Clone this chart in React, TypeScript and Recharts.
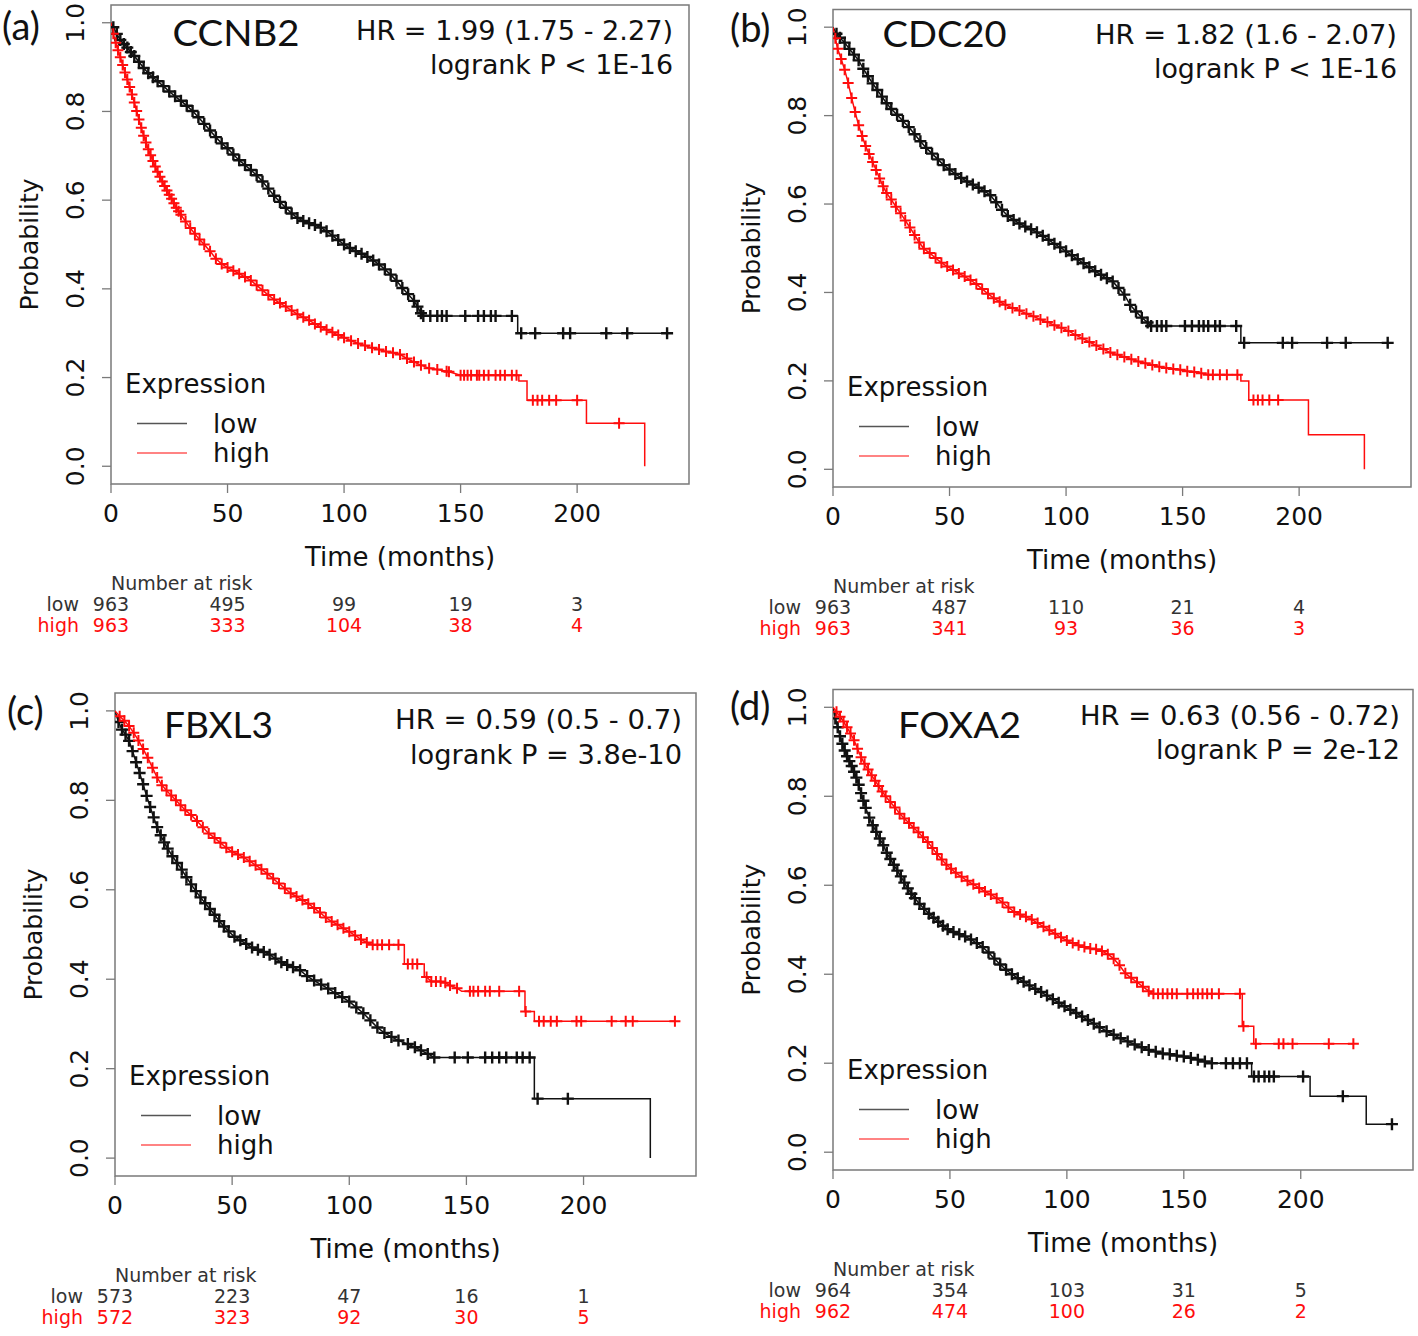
import React from "react";
import { LineChart, Line, XAxis, YAxis, ReferenceArea } from "recharts";

// [time (months), survival probability, censor mark 1/0]
type Pt = [number, number, number];

const timeTicks = [0, 50, 100, 150, 200];
const probTicks = [0, 0.2, 0.4, 0.6, 0.8, 1];

const ccnb2Low: Pt[] = [
  [0, 1, 0], [1, 0.99, 1], [2.5, 0.975, 1], [4, 0.961, 1], [5.5, 0.952, 1], [7, 0.944, 1], [8.5, 0.934, 1],
  [10, 0.925, 1], [12, 0.912, 1], [14, 0.898, 1], [16, 0.886, 1], [18, 0.877, 1], [20, 0.868, 1],
  [22.5, 0.857, 1], [25, 0.845, 1], [27.5, 0.834, 1], [30, 0.824, 1], [32.5, 0.813, 1], [35, 0.801, 1],
  [37.5, 0.787, 1], [40, 0.772, 1], [42.5, 0.757, 1], [45, 0.742, 1], [47.5, 0.728, 1], [50, 0.717, 1],
  [52.5, 0.703, 1], [55, 0.69, 1], [57.5, 0.679, 1], [60, 0.668, 1], [62.5, 0.656, 1], [65, 0.642, 1],
  [67.5, 0.626, 1], [70, 0.61, 1], [72.5, 0.596, 1], [75, 0.583, 1], [77.5, 0.57, 1], [80, 0.56, 1],
  [82.5, 0.553, 1], [85, 0.548, 1], [87.5, 0.544, 1], [90, 0.538, 1], [92.5, 0.53, 1], [95, 0.52, 1],
  [97.5, 0.51, 1], [100, 0.5, 1], [102.5, 0.492, 1], [105, 0.485, 1], [107.5, 0.479, 1], [110, 0.472, 1],
  [112.5, 0.464, 1], [115, 0.455, 1], [117.5, 0.444, 1], [120, 0.432, 1], [122.5, 0.418, 1], [125, 0.402, 1],
  [127.5, 0.388, 1], [130, 0.373, 1], [131.5, 0.36, 1], [133, 0.345, 1], [134, 0.339, 1], [137, 0.339, 1],
  [140, 0.339, 1], [142, 0.339, 1], [144, 0.339, 1], [152, 0.339, 1], [157.5, 0.339, 1], [160, 0.339, 1],
  [163, 0.339, 1], [165, 0.339, 1], [172, 0.339, 1], [174.5, 0.339, 0], [174.5, 0.3, 0], [176, 0.3, 1],
  [182, 0.3, 1], [194, 0.3, 1], [197, 0.3, 1], [212.5, 0.3, 1], [221.5, 0.3, 1], [238.6, 0.3, 1],
];

const ccnb2High: Pt[] = [
  [0, 1, 0], [1, 0.975, 1], [2, 0.955, 1], [3, 0.938, 1], [4, 0.922, 1], [5, 0.905, 1], [6, 0.888, 1],
  [7, 0.872, 1], [8, 0.855, 1], [9, 0.838, 1], [10, 0.82, 1], [11, 0.801, 1], [12, 0.782, 1], [13, 0.763, 1],
  [14, 0.745, 1], [15, 0.73, 1], [16, 0.715, 1], [17, 0.701, 1], [18, 0.688, 1], [19, 0.676, 1], [20, 0.664, 1],
  [21, 0.653, 1], [22, 0.642, 1], [23, 0.632, 1], [24, 0.622, 1], [25, 0.612, 1], [26, 0.603, 1], [27, 0.593, 1],
  [28, 0.583, 1], [29, 0.575, 1], [30, 0.567, 1], [32, 0.552, 1], [34, 0.537, 1], [36, 0.524, 1], [38, 0.511, 1],
  [40, 0.5, 1], [42.5, 0.485, 1], [45, 0.468, 1], [47.5, 0.456, 1], [50, 0.448, 1], [52.5, 0.441, 1],
  [55, 0.434, 1], [57.5, 0.427, 1], [60, 0.419, 1], [62.5, 0.408, 1], [65, 0.397, 1], [67.5, 0.386, 1],
  [70, 0.376, 1], [72.5, 0.368, 1], [75, 0.36, 1], [77.5, 0.351, 1], [80, 0.343, 1], [82.5, 0.336, 1],
  [85, 0.329, 1], [87.5, 0.321, 1], [90, 0.314, 1], [92.5, 0.308, 1], [95, 0.302, 1], [97.5, 0.296, 1],
  [100, 0.29, 1], [103, 0.283, 1], [106, 0.277, 1], [109, 0.272, 1], [112, 0.267, 1], [115, 0.263, 1],
  [118, 0.259, 1], [121, 0.256, 1], [124, 0.252, 1], [127, 0.243, 1], [130, 0.235, 1], [133, 0.228, 1],
  [136.5, 0.221, 1], [140, 0.218, 1], [144, 0.214, 1], [145, 0.213, 1], [150, 0.205, 1], [151.5, 0.205, 1],
  [153, 0.205, 1], [154.5, 0.205, 1], [157, 0.205, 1], [158, 0.205, 1], [160, 0.205, 1], [162, 0.205, 1],
  [165, 0.205, 1], [167, 0.205, 1], [169, 0.205, 1], [172, 0.205, 1], [174, 0.205, 1], [175, 0.205, 0],
  [175, 0.192, 0], [178.5, 0.192, 0], [178.5, 0.149, 0], [181, 0.149, 1], [183, 0.149, 1], [185, 0.149, 1],
  [188, 0.149, 1], [191, 0.149, 1], [200, 0.149, 1], [204, 0.149, 0], [204, 0.097, 0], [218, 0.097, 1],
  [229, 0.097, 0], [229, 0, 0],
];

const cdc20Low: Pt[] = [
  [0, 1, 0], [1.5, 0.985, 1], [3, 0.976, 1], [5, 0.965, 1], [7, 0.951, 1], [9, 0.938, 1], [11, 0.925, 1],
  [13, 0.906, 1], [15, 0.889, 1], [17, 0.873, 1], [19, 0.858, 1], [21, 0.843, 1], [23, 0.828, 1], [25, 0.815, 1],
  [27.5, 0.802, 1], [30, 0.788, 1], [32.5, 0.774, 1], [35, 0.758, 1], [37.5, 0.742, 1], [40, 0.727, 1],
  [42.5, 0.714, 1], [45, 0.701, 1], [47.5, 0.688, 1], [50, 0.678, 1], [52.5, 0.668, 1], [55, 0.659, 1],
  [57.5, 0.651, 1], [60, 0.644, 1], [62.5, 0.637, 1], [65, 0.629, 1], [67.5, 0.62, 1], [70, 0.604, 1],
  [72.5, 0.587, 1], [75, 0.573, 1], [77.5, 0.564, 1], [80, 0.556, 1], [82.5, 0.549, 1], [85, 0.543, 1],
  [87.5, 0.536, 1], [90, 0.528, 1], [92.5, 0.519, 1], [95, 0.51, 1], [97.5, 0.502, 1], [100, 0.493, 1],
  [102.5, 0.484, 1], [105, 0.475, 1], [107.5, 0.466, 1], [110, 0.457, 1], [112.5, 0.448, 1], [115, 0.44, 1],
  [117.5, 0.432, 1], [120, 0.425, 1], [122.5, 0.41, 1], [125, 0.395, 1], [127.5, 0.372, 1], [130, 0.357, 1],
  [132.5, 0.343, 1], [135, 0.332, 1], [136.5, 0.324, 1], [139, 0.324, 1], [141, 0.324, 1], [143, 0.324, 1],
  [151, 0.324, 1], [154, 0.324, 1], [157, 0.324, 1], [159, 0.324, 1], [161, 0.324, 1], [164, 0.324, 1],
  [166, 0.324, 1], [173, 0.324, 1], [175, 0.324, 0], [175, 0.286, 0], [176.4, 0.286, 1], [193, 0.286, 1],
  [197, 0.286, 1], [212, 0.286, 1], [220, 0.286, 1], [238, 0.286, 1],
];

const cdc20High: Pt[] = [
  [0, 1, 0], [1, 0.975, 1], [2, 0.951, 1], [3.5, 0.928, 1], [5, 0.904, 1], [6.5, 0.874, 1], [8, 0.84, 1],
  [9.5, 0.808, 1], [11, 0.778, 1], [12.5, 0.754, 1], [14, 0.731, 1], [15.5, 0.713, 1], [17, 0.695, 1],
  [18.5, 0.677, 1], [20, 0.658, 1], [21.5, 0.64, 1], [23, 0.625, 1], [25, 0.61, 1], [27, 0.594, 1],
  [29, 0.579, 1], [31, 0.563, 1], [33, 0.547, 1], [35, 0.53, 1], [37, 0.513, 1], [39, 0.499, 1],
  [41.5, 0.489, 1], [44, 0.478, 1], [46.5, 0.467, 1], [49, 0.459, 1], [51.5, 0.451, 1], [54, 0.443, 1],
  [56.5, 0.436, 1], [59, 0.428, 1], [61.5, 0.419, 1], [64, 0.408, 1], [66.5, 0.397, 1], [69, 0.387, 1],
  [71.5, 0.379, 1], [74, 0.372, 1], [77, 0.365, 1], [80, 0.359, 1], [83, 0.352, 1], [86, 0.346, 1],
  [89, 0.339, 1], [92, 0.333, 1], [95, 0.326, 1], [98, 0.32, 1], [101, 0.313, 1], [104, 0.304, 1],
  [107, 0.296, 1], [110, 0.288, 1], [113, 0.28, 1], [116, 0.272, 1], [119, 0.264, 1], [122, 0.259, 1],
  [125, 0.254, 1], [128, 0.249, 1], [131, 0.244, 1], [134, 0.24, 1], [137, 0.236, 1], [140, 0.232, 1],
  [143, 0.229, 1], [146, 0.227, 1], [149, 0.225, 1], [152, 0.222, 1], [155, 0.22, 1], [158, 0.217, 1],
  [161, 0.214, 1], [163, 0.214, 1], [166, 0.214, 1], [169, 0.214, 1], [173.5, 0.214, 1], [175, 0.214, 0],
  [175, 0.2, 0], [178.4, 0.2, 0], [178.4, 0.157, 0], [180.4, 0.157, 1], [182.3, 0.157, 1], [184.3, 0.157, 1],
  [187.2, 0.157, 1], [191, 0.157, 1], [204, 0.157, 0], [204, 0.078, 0], [228, 0.078, 0], [228, 0, 0],
];

const fbxl3Low: Pt[] = [
  [0, 1, 0], [1.5, 0.975, 1], [3, 0.958, 1], [4.5, 0.947, 1], [6, 0.933, 1], [7.5, 0.91, 1], [9, 0.885, 1],
  [10.5, 0.861, 1], [12, 0.836, 1], [13.5, 0.81, 1], [15, 0.785, 1], [16.5, 0.762, 1], [18, 0.74, 1],
  [19.5, 0.722, 1], [21, 0.706, 1], [22.5, 0.692, 1], [24.5, 0.675, 1], [26.5, 0.66, 1], [28.5, 0.645, 1],
  [30.5, 0.628, 1], [32.5, 0.612, 1], [34.5, 0.597, 1], [36.5, 0.583, 1], [38.5, 0.57, 1], [40.5, 0.557, 1],
  [42.5, 0.544, 1], [44.5, 0.53, 1], [46.5, 0.518, 1], [48.5, 0.507, 1], [51, 0.495, 1], [53.5, 0.487, 1],
  [56, 0.479, 1], [58.5, 0.471, 1], [61, 0.466, 1], [63.5, 0.461, 1], [66, 0.455, 1], [68.5, 0.446, 1],
  [71, 0.438, 1], [73.5, 0.432, 1], [76, 0.427, 1], [79, 0.42, 1], [82, 0.407, 1], [85, 0.397, 1],
  [88, 0.388, 1], [91, 0.379, 1], [94, 0.369, 1], [97, 0.36, 1], [100, 0.35, 1], [103, 0.337, 1],
  [106, 0.324, 1], [109, 0.308, 1], [112, 0.292, 1], [115, 0.28, 1], [118, 0.271, 1], [121, 0.263, 1],
  [125, 0.255, 1], [128, 0.248, 1], [130.6, 0.241, 1], [133.5, 0.233, 1], [136.3, 0.225, 1], [145, 0.225, 1],
  [150.6, 0.225, 1], [158, 0.225, 1], [161, 0.225, 1], [164, 0.225, 1], [167, 0.225, 1], [171.5, 0.225, 1],
  [174, 0.225, 1], [177, 0.225, 1], [179, 0.225, 0], [179, 0.133, 0], [180.4, 0.133, 1], [193.3, 0.133, 1],
  [228.5, 0.133, 0], [228.5, 0, 0],
];

const fbxl3High: Pt[] = [
  [0, 1, 0], [2, 0.988, 1], [4, 0.978, 1], [6, 0.966, 1], [8, 0.951, 1], [10, 0.934, 1], [12, 0.915, 1],
  [14, 0.895, 1], [16, 0.873, 1], [18, 0.851, 1], [20, 0.834, 1], [22, 0.822, 1], [24, 0.811, 1], [26, 0.8, 1],
  [28, 0.789, 1], [30, 0.778, 1], [32.5, 0.767, 1], [35, 0.754, 1], [37.5, 0.74, 1], [40, 0.726, 1],
  [42.5, 0.716, 1], [45, 0.705, 1], [47.5, 0.694, 1], [50, 0.685, 1], [52.5, 0.679, 1], [55, 0.672, 1],
  [57.5, 0.664, 1], [60, 0.655, 1], [62.5, 0.646, 1], [65, 0.636, 1], [67.5, 0.625, 1], [70, 0.614, 1],
  [72.5, 0.603, 1], [75, 0.592, 1], [77.5, 0.585, 1], [80, 0.577, 1], [82.5, 0.569, 1], [85, 0.559, 1],
  [87.5, 0.549, 1], [90, 0.538, 1], [92.5, 0.529, 1], [95, 0.522, 1], [97.5, 0.514, 1], [100, 0.506, 1],
  [102.5, 0.498, 1], [105, 0.489, 1], [107.5, 0.482, 1], [110, 0.477, 1], [112, 0.477, 1], [114, 0.477, 1],
  [117, 0.477, 1], [121, 0.477, 1], [123.5, 0.477, 0], [123.5, 0.434, 0], [125, 0.434, 1], [127, 0.434, 1],
  [129, 0.434, 1], [132, 0.434, 0], [132, 0.405, 0], [133, 0.405, 1], [135, 0.395, 1], [137, 0.395, 1],
  [139, 0.395, 1], [141, 0.392, 1], [143, 0.386, 1], [146, 0.38, 1], [148, 0.373, 0], [151.5, 0.373, 1],
  [153, 0.373, 1], [155, 0.373, 1], [158, 0.373, 1], [160, 0.373, 1], [164, 0.373, 1], [172.5, 0.373, 1],
  [175, 0.373, 0], [175, 0.328, 0], [175.3, 0.328, 1], [179, 0.328, 0], [179, 0.306, 0], [181, 0.306, 1],
  [183, 0.306, 1], [186, 0.306, 1], [188.6, 0.306, 1], [197, 0.306, 1], [199, 0.306, 1], [212, 0.306, 1],
  [218, 0.306, 1], [221, 0.306, 1], [239, 0.306, 1],
];

const foxa2Low: Pt[] = [
  [0, 1, 0], [1, 0.975, 1], [2, 0.955, 1], [3, 0.935, 1], [4, 0.918, 1], [5, 0.903, 1], [6, 0.89, 1],
  [7, 0.879, 1], [8, 0.868, 1], [9, 0.855, 1], [10, 0.842, 1], [11, 0.826, 1], [12, 0.807, 1], [13, 0.79, 1],
  [14, 0.774, 1], [15.5, 0.752, 1], [17, 0.735, 1], [18.5, 0.72, 1], [20, 0.705, 1], [21.5, 0.69, 1],
  [23, 0.673, 1], [24.5, 0.659, 1], [26, 0.646, 1], [27.5, 0.633, 1], [29, 0.62, 1], [30.5, 0.606, 1],
  [32, 0.593, 1], [33.5, 0.581, 1], [35, 0.571, 1], [37, 0.558, 1], [39, 0.547, 1], [41, 0.536, 1],
  [43, 0.527, 1], [45, 0.518, 1], [47, 0.509, 1], [49, 0.501, 1], [51.5, 0.495, 1], [54, 0.49, 1],
  [56.5, 0.485, 1], [59, 0.478, 1], [61.5, 0.47, 1], [64, 0.461, 1], [66.5, 0.449, 1], [69, 0.435, 1],
  [71.5, 0.422, 1], [74, 0.41, 1], [76.5, 0.4, 1], [79, 0.391, 1], [81.5, 0.383, 1], [84, 0.375, 1],
  [86.5, 0.367, 1], [89, 0.36, 1], [91.5, 0.352, 1], [94, 0.344, 1], [96.5, 0.336, 1], [99, 0.328, 1],
  [101.5, 0.32, 1], [104, 0.313, 1], [106.5, 0.305, 1], [109, 0.297, 1], [111.5, 0.289, 1], [114, 0.281, 1],
  [117, 0.272, 1], [120, 0.264, 1], [123, 0.256, 1], [126, 0.249, 1], [129, 0.242, 1], [132, 0.236, 1],
  [135, 0.23, 1], [138, 0.226, 1], [141, 0.222, 1], [144, 0.22, 1], [147, 0.217, 1], [150, 0.215, 1],
  [153, 0.212, 1], [156, 0.208, 1], [159, 0.204, 1], [162, 0.2, 1], [168, 0.2, 1], [171, 0.2, 1],
  [174, 0.2, 1], [177, 0.2, 1], [179, 0.2, 0], [179, 0.17, 0], [180, 0.17, 1], [182, 0.17, 1],
  [184.5, 0.17, 1], [186.5, 0.17, 1], [188.5, 0.17, 1], [201, 0.17, 1], [204, 0.17, 0], [204, 0.126, 0],
  [218, 0.126, 1], [228, 0.126, 0], [228, 0.063, 0], [239, 0.063, 1],
];

const foxa2High: Pt[] = [
  [0, 1, 0], [1.5, 0.99, 1], [3, 0.979, 1], [4.5, 0.968, 1], [6, 0.955, 1], [7.5, 0.941, 1], [9, 0.926, 1],
  [10.5, 0.907, 1], [12, 0.888, 1], [13.5, 0.873, 1], [15, 0.86, 1], [16.5, 0.847, 1], [18, 0.835, 1],
  [19.5, 0.823, 1], [21, 0.811, 1], [22.5, 0.8, 1], [24.5, 0.787, 1], [26.5, 0.775, 1], [28.5, 0.761, 1],
  [30.5, 0.75, 1], [32.5, 0.74, 1], [34.5, 0.729, 1], [36.5, 0.719, 1], [38.5, 0.708, 1], [40.5, 0.697, 1],
  [42.5, 0.684, 1], [44.5, 0.67, 1], [46.5, 0.658, 1], [48.5, 0.646, 1], [50.5, 0.637, 1], [52.5, 0.628, 1],
  [55, 0.619, 1], [57.5, 0.61, 1], [60, 0.602, 1], [62.5, 0.594, 1], [65, 0.586, 1], [67.5, 0.579, 1],
  [70, 0.571, 1], [72.5, 0.561, 1], [75, 0.55, 1], [77.5, 0.54, 1], [80, 0.534, 1], [82.5, 0.529, 1],
  [85, 0.523, 1], [87.5, 0.515, 1], [90, 0.507, 1], [92.5, 0.499, 1], [95, 0.491, 1], [97.5, 0.483, 1],
  [100, 0.476, 1], [102.5, 0.47, 1], [105, 0.465, 1], [107.5, 0.461, 1], [110, 0.458, 1], [112.5, 0.456, 1],
  [115, 0.452, 1], [117.5, 0.445, 1], [120, 0.435, 1], [122.5, 0.42, 1], [125, 0.402, 1], [127.5, 0.392, 1],
  [130, 0.382, 1], [132.5, 0.372, 1], [135, 0.362, 1], [137, 0.356, 1], [139, 0.356, 1], [141, 0.356, 1],
  [143, 0.356, 1], [145, 0.356, 1], [147, 0.356, 1], [151.5, 0.356, 1], [154, 0.356, 1], [156, 0.356, 1],
  [158, 0.356, 1], [160, 0.356, 1], [162, 0.356, 1], [165, 0.356, 1], [174, 0.356, 1], [175, 0.356, 0],
  [175, 0.283, 0], [175.5, 0.283, 1], [179.9, 0.283, 0], [179.9, 0.244, 0], [180.8, 0.244, 1],
  [190.6, 0.244, 1], [192.6, 0.244, 1], [196.5, 0.244, 1], [212, 0.244, 1], [222.5, 0.244, 1],
];

const ccnb2RiskLow = [963, 495, 99, 19, 3];
const ccnb2RiskHigh = [963, 333, 104, 38, 4];
const cdc20RiskLow = [963, 487, 110, 21, 4];
const cdc20RiskHigh = [963, 341, 93, 36, 3];
const fbxl3RiskLow = [573, 223, 47, 16, 1];
const fbxl3RiskHigh = [572, 323, 92, 30, 5];
const foxa2RiskLow = [964, 354, 103, 31, 5];
const foxa2RiskHigh = [962, 474, 100, 26, 2];

const X_MAX = 248;
const Y_MIN = -0.04;
const Y_MAX = 1.04;

const LOW = "#111111";
const HIGH = "#ff0d0d";
const FRAME = "#7a7a7a";
const INK = "#111";
const SANS = "'DejaVu Sans', Verdana, sans-serif";
const TITLE = "Lato, 'Open Sans', sans-serif";

const rows = (pts: Pt[]) => pts.map(([t, p, m]) => ({ t, p, m }));

const plus = (color: string, arm: number, sw: number) => (props: any) => {
  const { cx, cy, payload, index } = props;
  if (!payload || !payload.m || cx == null || cy == null) return <g key={`n${index}`} />;
  return (
    <path
      key={`c${index}`}
      d={`M${cx - arm},${cy}h${arm * 2}M${cx},${cy - arm}v${arm * 2}`}
      stroke={color}
      strokeWidth={sw}
      fill="none"
    />
  );
};

const panels = [
  {
    id: "a", px: 0, py: 0, w: 700, h: 660, box: { L: 111, T: 5, R: 689, B: 484 },
    letter: "(a)", letterX: 2, letterY: 40,
    gene: "CCNB2", geneX: 172.5, geneY: 46, geneW: 127,
    hr1: "HR = 1.99 (1.75 - 2.27)", hr2: "logrank P < 1E-16",
    hrX: 673, hrY1: 40, hrY2: 73.5, hrW1: 317, hrW2: 243,
    low: ccnb2Low, high: ccnb2High, riskLow: ccnb2RiskLow, riskHigh: ccnb2RiskHigh,
  },
  {
    id: "b", px: 700, py: 0, w: 718, h: 660, box: { L: 833, T: 9.5, R: 1411, B: 487 },
    letter: "(b)", letterX: 730, letterY: 42,
    gene: "CDC20", geneX: 882.6, geneY: 47, geneW: 124,
    hr1: "HR = 1.82 (1.6 - 2.07)", hr2: "logrank P < 1E-16",
    hrX: 1397, hrY1: 44, hrY2: 78, hrW1: 302, hrW2: 243,
    low: cdc20Low, high: cdc20High, riskLow: cdc20RiskLow, riskHigh: cdc20RiskHigh,
  },
  {
    id: "c", px: 0, py: 660, w: 700, h: 676, box: { L: 115, T: 693, R: 696, B: 1176 },
    letter: "(c)", letterX: 7, letterY: 725,
    gene: "FBXL3", geneX: 164, geneY: 738, geneW: 109,
    hr1: "HR = 0.59 (0.5 - 0.7)", hr2: "logrank P = 3.8e-10",
    hrX: 682, hrY1: 729, hrY2: 763.5, hrW1: 287, hrW2: 272,
    low: fbxl3Low, high: fbxl3High, riskLow: fbxl3RiskLow, riskHigh: fbxl3RiskHigh,
  },
  {
    id: "d", px: 700, py: 660, w: 718, h: 676, box: { L: 833, T: 689.5, R: 1413, B: 1170 },
    letter: "(d)", letterX: 730, letterY: 720,
    gene: "FOXA2", geneX: 898, geneY: 738, geneW: 123,
    hr1: "HR = 0.63 (0.56 - 0.72)", hr2: "logrank P = 2e-12",
    hrX: 1400, hrY1: 725, hrY2: 759, hrW1: 320, hrW2: 244,
    low: foxa2Low, high: foxa2High, riskLow: foxa2RiskLow, riskHigh: foxa2RiskHigh,
  },
];

function KMPanel({ cfg }: { cfg: (typeof panels)[number] }) {
  const { px, py, w, h, box } = cfg;
  const L = box.L - px;
  const T = box.T - py;
  const R = box.R - px;
  const B = box.B - py;
  const yw = 60;
  const xh = 45;
  const tx = (t: number) => L + (t / X_MAX) * (R - L);

  return (
    <div style={{ position: "absolute", left: px, top: py, width: w, height: h }}>
      <LineChart
        width={w}
        height={h}
        margin={{ top: T, left: L - yw, right: w - R, bottom: h - B - xh }}
      >
        <XAxis
          dataKey="t"
          type="number"
          domain={[0, X_MAX]}
          ticks={timeTicks}
          interval={0}
          allowDataOverflow
          height={xh}
          axisLine={false}
          tickSize={9}
          tickLine={{ stroke: FRAME, strokeWidth: 1.3 }}
          tick={(p: any) => (
            <text x={p.x} y={B + 38} textAnchor="middle" fontSize={25} fontFamily={SANS} fill={INK}>
              {p.payload.value}
            </text>
          )}
        />
        <YAxis
          type="number"
          domain={[Y_MIN, Y_MAX]}
          ticks={probTicks}
          interval={0}
          allowDataOverflow
          width={yw}
          axisLine={false}
          tickSize={9}
          tickLine={{ stroke: FRAME, strokeWidth: 1.3 }}
          tick={(p: any) => (
            <text
              x={L - 27}
              y={p.y}
              transform={`rotate(-90, ${L - 27}, ${p.y})`}
              textAnchor="middle"
              fontSize={25}
              fontFamily={SANS}
              fill={INK}
            >
              {Number(p.payload.value).toFixed(1)}
            </text>
          )}
        />
        <ReferenceArea
          x1={0}
          x2={X_MAX}
          y1={Y_MIN}
          y2={Y_MAX}
          fill="none"
          fillOpacity={0}
          stroke={FRAME}
          strokeWidth={1.5}
          ifOverflow="visible"
        />
        <Line
          data={rows(cfg.low)}
          dataKey="p"
          type="linear"
          stroke={LOW}
          strokeWidth={1.5}
          dot={plus(LOW, 6, 2.4)}
          activeDot={false}
          isAnimationActive={false}
        />
        <Line
          data={rows(cfg.high)}
          dataKey="p"
          type="linear"
          stroke={HIGH}
          strokeWidth={1.5}
          dot={plus(HIGH, 5.5, 2)}
          activeDot={false}
          isAnimationActive={false}
        />
      </LineChart>
      <svg
        width={w}
        height={h}
        style={{ position: "absolute", left: 0, top: 0, pointerEvents: "none", overflow: "visible" }}
      >
        <text x={cfg.letterX - px} y={cfg.letterY - py} fontSize={38} fontFamily={TITLE} fill={INK}>
          {cfg.letter}
        </text>
        <text
          x={cfg.geneX - px}
          y={cfg.geneY - py}
          fontSize={37}
          fontFamily={TITLE}
          fill={INK}
          textLength={cfg.geneW}
          lengthAdjust="spacingAndGlyphs"
        >
          {cfg.gene}
        </text>
        <text
          x={cfg.hrX - px - cfg.hrW1}
          y={cfg.hrY1 - py}
          fontSize={26}
          fontFamily={SANS}
          fill={INK}
          textLength={cfg.hrW1}
          lengthAdjust="spacingAndGlyphs"
        >
          {cfg.hr1}
        </text>
        <text
          x={cfg.hrX - px - cfg.hrW2}
          y={cfg.hrY2 - py}
          fontSize={26}
          fontFamily={SANS}
          fill={INK}
          textLength={cfg.hrW2}
          lengthAdjust="spacingAndGlyphs"
        >
          {cfg.hr2}
        </text>

        {/* legend */}
        <text x={L + 14} y={B - 91} fontSize={26} fontFamily={SANS} fill={INK}>
          Expression
        </text>
        <line x1={L + 26} x2={L + 76} y1={B - 60.5} y2={B - 60.5} stroke="#555" strokeWidth={1.5} />
        <line x1={L + 26} x2={L + 76} y1={B - 31} y2={B - 31} stroke="#ff5a5a" strokeWidth={1.5} />
        <text x={L + 102} y={B - 51} fontSize={26} fontFamily={SANS} fill={INK}>
          low
        </text>
        <text x={L + 102} y={B - 22} fontSize={26} fontFamily={SANS} fill={INK}>
          high
        </text>

        {/* axis titles */}
        <text x={(L + R) / 2} y={B + 82} textAnchor="middle" fontSize={26} fontFamily={SANS} fill={INK}>
          Time (months)
        </text>
        <text
          x={L - 73}
          y={(T + B) / 2}
          transform={`rotate(-90, ${L - 73}, ${(T + B) / 2})`}
          textAnchor="middle"
          fontSize={25}
          fontFamily={SANS}
          fill={INK}
        >
          Probability
        </text>

        {/* number at risk */}
        <text x={tx(0)} y={B + 106} fontSize={19} fontFamily={SANS} fill="#333">
          Number at risk
        </text>
        <text x={tx(0) - 32} y={B + 127} textAnchor="end" fontSize={19} fontFamily={SANS} fill="#333">
          low
        </text>
        <text x={tx(0) - 32} y={B + 148} textAnchor="end" fontSize={19} fontFamily={SANS} fill={HIGH}>
          high
        </text>
        {cfg.riskLow.map((n, i) => (
          <text key={`l${i}`} x={tx(timeTicks[i])} y={B + 127} textAnchor="middle" fontSize={19} fontFamily={SANS} fill="#333">
            {n}
          </text>
        ))}
        {cfg.riskHigh.map((n, i) => (
          <text key={`h${i}`} x={tx(timeTicks[i])} y={B + 148} textAnchor="middle" fontSize={19} fontFamily={SANS} fill={HIGH}>
            {n}
          </text>
        ))}
      </svg>
    </div>
  );
}

export default function App() {
  return (
    <div style={{ position: "absolute", left: 0, top: 0, width: 1418, height: 1336, background: "#fff" }}>
      {panels.map((cfg) => (
        <KMPanel key={cfg.id} cfg={cfg} />
      ))}
    </div>
  );
}
